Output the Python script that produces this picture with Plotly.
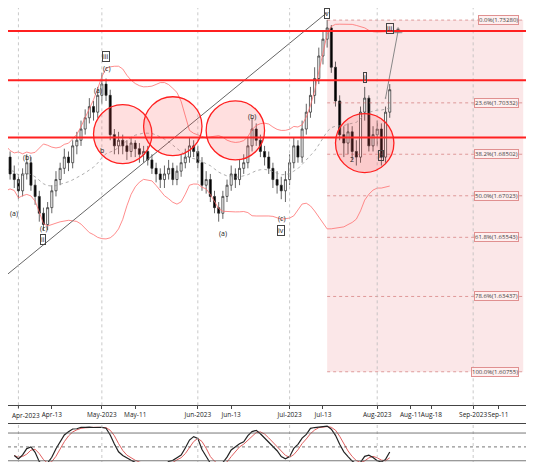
import pandas as pd
import plotly.graph_objects as go

dates = pd.bdate_range("2023-03-27", "2023-08-04")

close = [1.676, 1.680, 1.684, 1.678, 1.676, 1.672, 1.678, 1.682, 1.674, 1.670,
         1.664, 1.660, 1.666, 1.672, 1.676, 1.680, 1.684, 1.682, 1.688, 1.690,
         1.694, 1.698, 1.702, 1.700, 1.706, 1.710, 1.706, 1.692, 1.688, 1.690,
         1.688, 1.686, 1.689, 1.687, 1.685, 1.686, 1.683, 1.680, 1.678, 1.676,
         1.678, 1.680, 1.676, 1.679, 1.682, 1.684, 1.688, 1.686, 1.682, 1.674,
         1.676, 1.670, 1.666, 1.664, 1.670, 1.674, 1.678, 1.676, 1.680, 1.682,
         1.688, 1.694, 1.690, 1.686, 1.684, 1.680, 1.676, 1.674, 1.672, 1.676,
         1.682, 1.688, 1.684, 1.694, 1.700, 1.706, 1.712, 1.720, 1.726, 1.730,
         1.716, 1.704, 1.692, 1.689, 1.693, 1.686, 1.684, 1.700, 1.705, 1.688,
         1.692, 1.694, 1.684, 1.700, 1.708]
high = [1.679, 1.683, 1.687, 1.686, 1.681, 1.678, 1.680, 1.685, 1.684, 1.676,
        1.672, 1.666, 1.668, 1.674, 1.679, 1.682, 1.687, 1.686, 1.690, 1.693,
        1.697, 1.701, 1.705, 1.704, 1.709, 1.714, 1.712, 1.708, 1.694, 1.693,
        1.692, 1.690, 1.691, 1.690, 1.689, 1.688, 1.688, 1.685, 1.682, 1.680,
        1.681, 1.683, 1.682, 1.681, 1.685, 1.687, 1.691, 1.690, 1.688, 1.684,
        1.679, 1.678, 1.672, 1.668, 1.672, 1.676, 1.681, 1.680, 1.683, 1.685,
        1.691, 1.698, 1.696, 1.692, 1.688, 1.686, 1.682, 1.679, 1.677, 1.679,
        1.685, 1.691, 1.690, 1.697, 1.703, 1.709, 1.716, 1.723, 1.729, 1.7328,
        1.731, 1.718, 1.706, 1.695, 1.696, 1.695, 1.690, 1.702, 1.709, 1.706,
        1.695, 1.697, 1.696, 1.702, 1.710]
low = [1.671, 1.674, 1.678, 1.676, 1.673, 1.669, 1.670, 1.676, 1.672, 1.667,
       1.661, 1.658, 1.658, 1.664, 1.670, 1.674, 1.678, 1.679, 1.680, 1.685,
       1.688, 1.692, 1.696, 1.697, 1.698, 1.703, 1.704, 1.690, 1.685, 1.685,
       1.685, 1.683, 1.684, 1.684, 1.682, 1.682, 1.681, 1.678, 1.675, 1.673,
       1.673, 1.676, 1.674, 1.674, 1.677, 1.680, 1.682, 1.684, 1.680, 1.672,
       1.671, 1.668, 1.664, 1.661, 1.662, 1.668, 1.672, 1.673, 1.674, 1.678,
       1.680, 1.686, 1.688, 1.684, 1.681, 1.678, 1.673, 1.671, 1.669, 1.668,
       1.674, 1.680, 1.682, 1.682, 1.692, 1.698, 1.703, 1.710, 1.717, 1.723,
       1.714, 1.702, 1.690, 1.684, 1.685, 1.683, 1.681, 1.682, 1.697, 1.686,
       1.686, 1.688, 1.681, 1.682, 1.698]

fib_pct = ["0.0", "23.6", "38.2", "50.0", "61.8", "78.6", "100.0"]
fib_price = [1.73280, 1.70332, 1.68502, 1.67023, 1.65543, 1.63437, 1.60755]
key_levels = [1.7289, 1.7114, 1.6910]

tick_dates = ["2023-04-13", "2023-05-01", "2023-05-11", "2023-06-01", "2023-06-13",
              "2023-07-03", "2023-07-13", "2023-08-01", "2023-08-11", "2023-08-18", "2023-09-01", "2023-09-11"]
tick_text = ["Apr-13", "May-2023", "May-11", "Jun-2023", "Jun-13",
             "Jul-2023", "Jul-13", "Aug-2023", "Aug-11", "Aug-18", "Sep-2023", "Sep-11"]
first_tick_date, first_tick_text = "2023-04-03", "Apr-2023"

wave_labels = ["(a)", "(b)", "(c)", "ii", "(a)", "(c)", "iii", "b", "(a)", "(b)", "(c)", "iv", "v", "i", "2", "ii", "iii"]
wave_dates = ["2023-03-31", "2023-04-05", "2023-04-11", "2023-04-11", "2023-04-28", "2023-05-02", "2023-05-02",
              "2023-05-01", "2023-06-09", "2023-06-20", "2023-06-29", "2023-06-29", "2023-07-14", "2023-07-27",
              "2023-07-24", "2023-08-02", "2023-08-04"]
wave_prices = [1.6638, 1.6838, 1.6585, 1.6545, 1.7078, 1.7156, 1.7198, 1.6863, 1.6568, 1.6985, 1.6620,
               1.6580, 1.7350, 1.7125, 1.6832, 1.6845, 1.7298]
circle_dates = [("2023-04-27", "2023-05-17"), ("2023-05-15", "2023-06-02"), ("2023-06-05", "2023-06-23"),
                ("2023-07-18", "2023-08-07")]
circle_prices = [1.6922, 1.6950, 1.6935, 1.6890]
circle_half = [0.0105, 0.0105, 0.0105, 0.0105]

s = pd.Series(close, index=dates)
h = pd.Series(high, index=dates)
l = pd.Series(low, index=dates)
opn = s.shift(1).fillna(1.674)
mid = s.rolling(20, min_periods=3).mean()
sd = s.rolling(20, min_periods=3).std()
lo14 = l.rolling(14, min_periods=5).min()
hi14 = h.rolling(14, min_periods=5).max()
k = (100 * (s - lo14) / (hi14 - lo14)).rolling(3, min_periods=1).mean()
dline = k.rolling(3, min_periods=1).mean()

fig = go.Figure()
red = "#ff2020"
fib_x0, fib_x1 = "2023-07-14", "2023-09-19"
fig.add_shape(type="rect", x0=fib_x0, x1=fib_x1, y0=fib_price[-1], y1=fib_price[0],
              fillcolor="rgba(240,160,165,0.25)", line_width=0, layer="below")
for p, v in zip(fib_pct, fib_price):
    fig.add_shape(type="line", x0=fib_x0, x1=fib_x1, y0=v, y1=v,
                  line=dict(color="rgba(200,90,90,0.8)", width=0.7, dash="dot"))
    fig.add_annotation(x="2023-09-18", y=v, xanchor="right", text=f"{p}%({v:.5f})", showarrow=False,
                       font=dict(size=6, color="#444"), bgcolor="rgba(255,240,240,0.9)",
                       bordercolor="#e09090", borderwidth=1, borderpad=0)
for d in ["2023-04-03", "2023-05-01", "2023-06-01", "2023-07-03", "2023-08-01", "2023-09-01"]:
    for yref in ["y", "y2"]:
        fig.add_shape(type="line", x0=d, x1=d, y0=0, y1=1, yref=f"{yref} domain", xref="x" if yref == "y" else "x2",
                      line=dict(color="#bbb", width=0.8, dash="dot"))

fig.add_trace(go.Scatter(x=dates, y=mid + 2 * sd, mode="lines", line=dict(color="#ff7070", width=0.8)))
fig.add_trace(go.Scatter(x=dates, y=mid - 2 * sd, mode="lines", line=dict(color="#ff7070", width=0.8)))
fig.add_trace(go.Scatter(x=dates, y=mid, mode="lines", line=dict(color="#999", width=0.8, dash="dot")))
fig.add_trace(go.Candlestick(x=dates, open=opn, high=h, low=l, close=s, whiskerwidth=0,
                             increasing=dict(line=dict(color="#222", width=0.7), fillcolor="white"),
                             decreasing=dict(line=dict(color="#222", width=0.7), fillcolor="black")))
fig.add_trace(go.Scatter(x=["2023-03-29", "2023-07-14"], y=[1.6418, 1.7355], mode="lines",
                         line=dict(color="#666", width=1)))
fig.add_trace(go.Scatter(x=["2023-08-03", "2023-08-08"], y=[1.7050, 1.7289], mode="lines+markers",
                         line=dict(color="#888", width=1),
                         marker=dict(symbol=["circle", "triangle-up"], size=[1, 7], color="#222")))

for v in key_levels:
    fig.add_shape(type="line", x0=0, x1=1, xref="x domain", y0=v, y1=v, line=dict(color=red, width=2))
for (a, b), c, r in zip(circle_dates, circle_prices, circle_half):
    fig.add_shape(type="circle", x0=a, x1=b, y0=c - r, y1=c + r,
                  line=dict(color=red, width=1.3), fillcolor="rgba(255,80,80,0.18)")
for t, d, p in zip(wave_labels, wave_dates, wave_prices):
    fig.add_annotation(x=d, y=p, text=t, showarrow=False, font=dict(size=7, color="#222"),
                       bordercolor="#444" if t in ("ii", "iii", "iv", "v", "i") else "rgba(0,0,0,0)",
                       borderwidth=1, borderpad=0)
fig.add_annotation(x=0.004, xref="paper", y=0.14, yref="paper", xanchor="left", yanchor="top", yshift=-4,
                   text=first_tick_text, showarrow=False, font=dict(size=6.5, color="#222"))
fig.add_shape(type="line", x0=first_tick_date, x1=first_tick_date, y0=0.14, y1=0.133, yref="paper",
              line=dict(color="#444", width=1))

fig.add_trace(go.Scatter(x=dates, y=dline, mode="lines", line=dict(color="#e06060", width=1), xaxis="x2", yaxis="y2"))
fig.add_trace(go.Scatter(x=dates, y=k, mode="lines", line=dict(color="#222", width=1.2), xaxis="x2", yaxis="y2"))
for v, dsh in [(80, "solid"), (50, "dot"), (20, "solid")]:
    fig.add_shape(type="line", x0=0, x1=1, xref="x2 domain", y0=v, y1=v, yref="y2",
                  line=dict(color="#555", width=0.8, dash=dsh))

xr = ["2023-03-29 12:00", "2023-09-25 12:00"]
brk = [dict(bounds=["sat", "mon"])]
fig.update_layout(
    width=534, height=462, margin=dict(l=0, r=0, t=0, b=0), showlegend=False,
    paper_bgcolor="white", plot_bgcolor="white",
    xaxis=dict(domain=[0, 1], range=xr, rangebreaks=brk, rangeslider_visible=False, anchor="y",
               tickvals=tick_dates, ticktext=tick_text, tickfont=dict(size=6.5, color="#222"), tickangle=0,
               ticks="outside", ticklen=3, showgrid=False, showline=True, linecolor="#444", mirror=True),
    yaxis=dict(domain=[0.14, 1.0], range=[1.5956, 1.7371], showticklabels=False, showgrid=False,
               showline=True, linecolor="#444", mirror=True),
    xaxis2=dict(range=xr, rangebreaks=brk, anchor="y2", showticklabels=False, showgrid=False,
                showline=True, linecolor="#444", mirror=True),
    yaxis2=dict(domain=[0.0, 0.1], range=[0, 100], showticklabels=False, showgrid=False,
                showline=True, linecolor="#444", mirror=True),
)
fig.write_html("out.html")
